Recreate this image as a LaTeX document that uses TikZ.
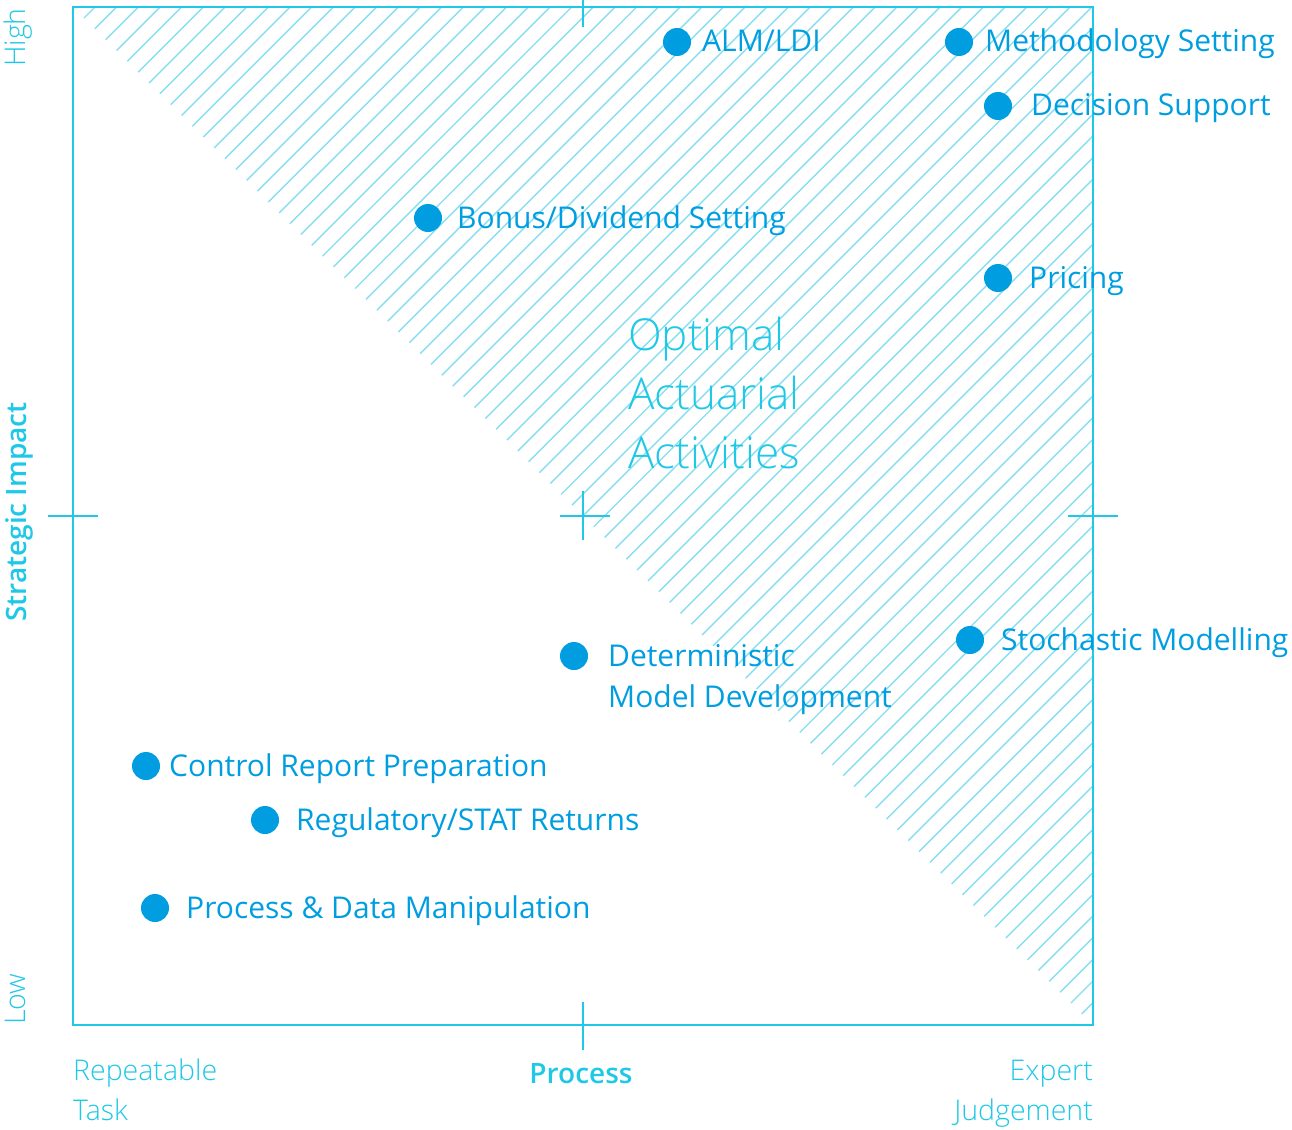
\documentclass[tikz,border=0pt]{standalone}
\usepackage{fontspec}
\setmainfont{Open Sans}
\newfontfamily\lightfont{Open Sans Light}
\newfontfamily\semifont{Open Sans Semibold}
\definecolor{frame}{RGB}{30,200,230}
\definecolor{hatchc}{RGB}{135,222,240}
\definecolor{dotc}{RGB}{0,158,224}
\begin{document}
\begin{tikzpicture}[x=1pt,y=-1pt,
  dotnode/.style={circle,fill=dotc,inner sep=0pt,minimum size=28pt},
  lbl/.style={anchor=base west,text=dotc,font=\fontsize{30}{41}\selectfont,inner sep=0pt,align=left},
  axlbl/.style={text=frame,font=\lightfont\fontsize{28.5}{40}\selectfont,inner sep=0pt},
  axbold/.style={text=frame,font=\semifont\fontsize{28}{30}\selectfont,inner sep=0pt},
  tick/.style={draw=frame,line width=1.5pt},
  hatch/.style={draw=hatchc,line width=1.4pt}]
\useasboundingbox (0,0) rectangle (1292,1129);
% hatching
\begin{scope}
\clip (73,7) -- (1093,7) -- (1093,1025) -- cycle;
\foreach \c in {0,...,93} {
  \draw[hatch] ({102+21.67*\c+100},-100) -- ({102+21.67*\c-1200},1200);
}
\end{scope}
% frame
\draw[draw=frame,line width=2pt] (73,7) rectangle (1093,1025);
% ticks
\draw[tick] (583,0) -- (583,27);
\draw[tick] (583,1002) -- (583,1050);
\draw[tick] (48,516) -- (98,516);
\draw[tick] (1068,516) -- (1118,516);
\draw[tick] (560,516) -- (610,516);
\draw[tick] (583,491) -- (583,540);
% center text
\node[anchor=base west,text=frame,font=\lightfont\fontsize{44}{59}\selectfont,align=left,inner sep=0pt] (opt) at (628,468) {Optimal\\Actuarial\\Activities};
% points
\node[dotnode] (d1) at (677,42) {};
\node[lbl] (l1) at (702,52) {ALM/LDI};
\node[dotnode] (d2) at (959,42) {};
\node[lbl] (l2) at (985,52) {Methodology Setting};
\node[dotnode] (d3) at (998,106) {};
\node[lbl] (l3) at (1031,116) {Decision Support};
\node[dotnode] (d4) at (428,218) {};
\node[lbl] (l4) at (457,228) {Bonus/Dividend Setting};
\node[dotnode] (d5) at (998,278) {};
\node[lbl] (l5) at (1029,288) {Pricing};
\node[dotnode] (d6) at (574,656) {};
\node[lbl] (l6) at (608,707) {Deterministic\\Model Development};
\node[dotnode] (d7) at (970,640) {};
\node[lbl] (l7) at (1001,650) {Stochastic Modelling};
\node[dotnode] (d8) at (146,766) {};
\node[lbl] (l8) at (169,776) {Control Report Preparation};
\node[dotnode] (d9) at (265,820) {};
\node[lbl] (l9) at (296,830) {Regulatory/STAT Returns};
\node[dotnode] (d10) at (155,908) {};
\node[lbl] (l10) at (186,918) {Process \& Data Manipulation};
% axis labels
\node[axlbl,rotate=90,anchor=base east] (high) at (25,8) {High};
\node[axlbl,rotate=90,anchor=base west] (low) at (25,1025) {Low};
\node[axbold,rotate=90,anchor=base] (si) at (27,512) {Strategic Impact};
\node[axlbl,anchor=base west,align=left] (rep) at (73,1120) {Repeatable\\Task};
\node[axbold,anchor=base] (proc) at (581,1083) {Process};
\node[axlbl,anchor=base east,align=right] (exp) at (1093,1120) {Expert\\Judgement};
\end{tikzpicture}
\end{document}
